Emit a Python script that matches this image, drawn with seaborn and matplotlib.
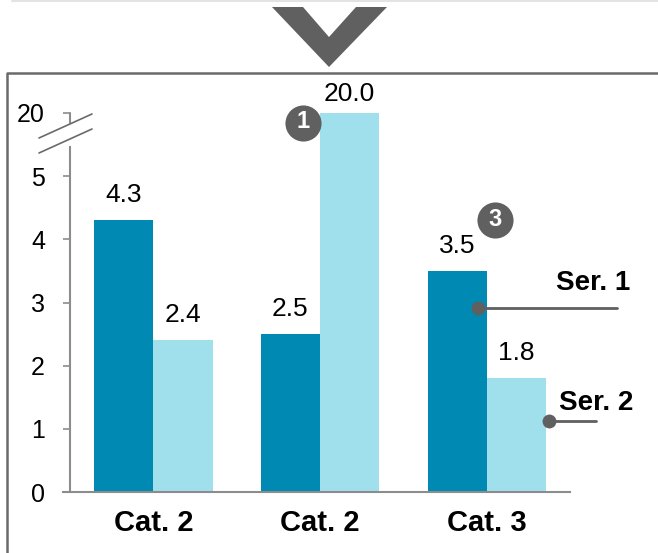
import matplotlib
matplotlib.use("Agg")
import matplotlib.pyplot as plt
from matplotlib.lines import Line2D
from matplotlib.patches import Polygon
import seaborn as sns
import numpy as np
import pandas as pd

# --- data ---
categories = ["Cat. 2", "Cat. 2", "Cat. 3"]
series_names = ["Ser. 1", "Ser. 2"]
ser1_values = [4.3, 2.5, 3.5]
ser2_values = [2.4, 20.0, 1.8]
y_ticks = [0, 1, 2, 3, 4, 5, 20]
badges = ["1", "3"]

COL_SER1 = "#0089b3"
COL_SER2 = "#9fe0ec"
DARK = "#606060"
AXIS_GRAY = "#8c8c8c"

# broken axis: everything above 5 is squeezed 15x
BREAK_AT = 5
COMPRESS = 15


def forward(v):
    v = np.asarray(v, dtype=float)
    return np.where(v <= BREAK_AT, v, BREAK_AT + (v - BREAK_AT) / COMPRESS)


def inverse(u):
    u = np.asarray(u, dtype=float)
    return np.where(u <= BREAK_AT, u, BREAK_AT + (u - BREAK_AT) * COMPRESS)


sns.set_theme(style="ticks")
plt.rcParams['font.family'] = ['Liberation Sans', 'DejaVu Sans']

W, H = 658, 553
fig = plt.figure(figsize=(W / 100, H / 100), dpi=100)


def fx(px):
    return px / W


def fy(py):
    return 1 - py / H


ax = fig.add_axes([fx(70), fy(492), (570 - 70) / W, (492 - 113) / H])

df = pd.DataFrame({
    "pos": list(range(len(categories))) * 2,
    "series": [series_names[0]] * len(ser1_values) + [series_names[1]] * len(ser2_values),
    "value": ser1_values + ser2_values,
})

sns.barplot(data=df, x="pos", y="value", hue="series", palette=[COL_SER1, COL_SER2],
            width=0.71, saturation=1, errorbar=None, legend=False, linewidth=0, ax=ax)

ax.set_yscale("function", functions=(forward, inverse))
ax.set_ylim(0, 20)
ax.set_xlim(-0.5, 2.5)
ax.set_yticks(y_ticks)
ax.set_yticklabels([str(t) for t in y_ticks])
ax.set_xticks(range(len(categories)))
ax.set_xticklabels(categories, fontweight="bold")
ax.set_xlabel("")
ax.set_ylabel("")

ax.tick_params(axis="y", length=5, width=1.2, color=AXIS_GRAY, pad=13, labelsize=18, labelcolor="black")
ax.tick_params(axis="x", length=0, pad=12, labelsize=21, labelcolor="black")

for s in ["top", "right"]:
    ax.spines[s].set_visible(False)
for s in ["left", "bottom"]:
    ax.spines[s].set_color(AXIS_GRAY)
    ax.spines[s].set_linewidth(1.5)
ax.spines["left"].set_bounds(0, float(inverse(5.46)))
ax.spines["bottom"].set_bounds(-0.542, 2.5)

# value labels
for cont, vals in zip(ax.containers, [ser1_values, ser2_values]):
    for bar, v in zip(cont, vals):
        pad_px = 12 if v > BREAK_AT else 18
        ax.annotate(f"{v:.1f}", (bar.get_x() + bar.get_width() / 2, v),
                    xytext=(0, pad_px * 0.72), textcoords="offset points",
                    ha="center", va="baseline", fontsize=19, color="black",
                    annotation_clip=False)

# --- decorations ---
fig.add_artist(Line2D([fx(12), fx(658)], [fy(1), fy(1)], color="#e3e3e3", lw=1.5))

chev = [(272, 7), (303, 7), (329, 37), (356, 7), (387, 7), (329, 67)]
fig.add_artist(Polygon([(fx(x), fy(y)) for x, y in chev], closed=True,
                       facecolor=DARK, edgecolor="none", transform=fig.transFigure))

fig.add_artist(Line2D([fx(7), fx(7), fx(662)], [fy(560), fy(73), fy(73)], color="#6a6a6a", lw=1.8))

# axis break
fig.add_artist(Line2D([fx(70), fx(70)], [fy(113), fy(123)], color=AXIS_GRAY, lw=1.5))
fig.add_artist(Line2D([fx(39), fx(92)], [fy(138), fy(114)], color="#6a6a6a", lw=1.2))
fig.add_artist(Line2D([fx(39), fx(92)], [fy(153), fy(129)], color="#6a6a6a", lw=1.2))

# badges
for label, (px, py) in zip(badges, [(303, 123), (495, 220)]):
    fig.add_artist(Line2D([fx(px)], [fy(py)], marker="o", markersize=26, linestyle="none",
                          markerfacecolor=DARK, markeredgecolor="none"))
    fig.text(fx(px), fy(py - 1), label, ha="center", va="center", color="white",
             fontsize=17, fontweight="bold")

# series callouts
for name, (dx, dy), x_end, (tx, ty) in zip(series_names,
                                           [(478, 308), (549, 421)],
                                           [617, 596],
                                           [(593, 283), (596, 403)]):
    fig.add_artist(Line2D([fx(dx), fx(x_end)], [fy(dy), fy(dy)], color=DARK, lw=2))
    fig.add_artist(Line2D([fx(dx)], [fy(dy)], marker="o", markersize=10, linestyle="none",
                          markerfacecolor=DARK, markeredgecolor="none"))
    fig.text(fx(tx), fy(ty), name, ha="center", va="center", fontsize=20,
             fontweight="bold", color="black")

fig.savefig("out.png", dpi=100)
